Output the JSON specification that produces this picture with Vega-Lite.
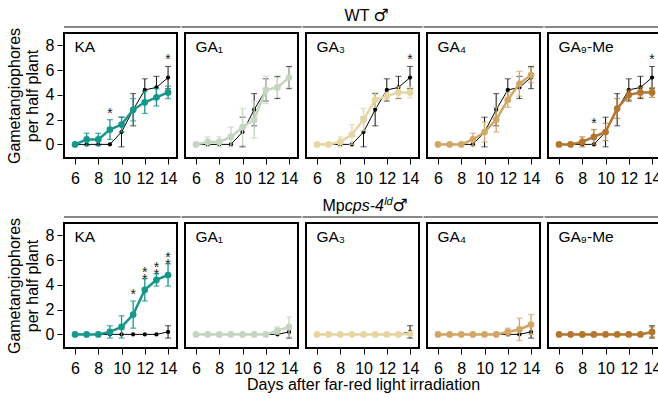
{
  "$schema": "https://vega.github.io/schema/vega-lite/v6.json",
  "padding": {"left": 6, "top": 6, "right": 0, "bottom": 0},
  "title": {"text": "Days after far-red light irradiation", "orient": "bottom", "anchor": "middle", "dx": 29, "fontSize": 16, "fontWeight": "normal", "offset": 0, "color": "#000"},
  "data": {"values": [
    {"g":"WT","t":"KA","d":6,"m":0,"s":0,"c":0,"cs":0},
    {"g":"WT","t":"KA","d":7,"m":0.4,"s":0.5,"c":0,"cs":0},
    {"g":"WT","t":"KA","d":8,"m":0.4,"s":0.5,"c":0,"cs":0},
    {"g":"WT","t":"KA","d":9,"m":1.2,"s":0.8,"c":0,"cs":0,"sig":"*"},
    {"g":"WT","t":"KA","d":10,"m":1.6,"s":0.6,"c":1.0,"cs":1.2},
    {"g":"WT","t":"KA","d":11,"m":2.8,"s":0.9,"c":2.8,"cs":1.3},
    {"g":"WT","t":"KA","d":12,"m":3.4,"s":0.9,"c":4.4,"cs":0.9},
    {"g":"WT","t":"KA","d":13,"m":3.8,"s":0.7,"c":4.6,"cs":0.9},
    {"g":"WT","t":"KA","d":14,"m":4.2,"s":0.5,"c":5.4,"cs":0.9,"sig":"*"},
    {"g":"WT","t":"GA₁","d":6,"m":0,"s":0,"c":0,"cs":0},
    {"g":"WT","t":"GA₁","d":7,"m":0.2,"s":0.4,"c":0,"cs":0},
    {"g":"WT","t":"GA₁","d":8,"m":0.2,"s":0.4,"c":0,"cs":0},
    {"g":"WT","t":"GA₁","d":9,"m":0.6,"s":0.8,"c":0,"cs":0},
    {"g":"WT","t":"GA₁","d":10,"m":1.4,"s":1.5,"c":1.0,"cs":1.2},
    {"g":"WT","t":"GA₁","d":11,"m":2.0,"s":1.5,"c":2.8,"cs":1.3},
    {"g":"WT","t":"GA₁","d":12,"m":4.4,"s":1.1,"c":4.4,"cs":0.9},
    {"g":"WT","t":"GA₁","d":13,"m":4.6,"s":0.8,"c":4.6,"cs":0.9},
    {"g":"WT","t":"GA₁","d":14,"m":5.4,"s":0.8,"c":5.4,"cs":0.9},
    {"g":"WT","t":"GA₃","d":6,"m":0,"s":0,"c":0,"cs":0},
    {"g":"WT","t":"GA₃","d":7,"m":0,"s":0,"c":0,"cs":0},
    {"g":"WT","t":"GA₃","d":8,"m":0.2,"s":0.4,"c":0,"cs":0},
    {"g":"WT","t":"GA₃","d":9,"m":0.8,"s":0.8,"c":0,"cs":0},
    {"g":"WT","t":"GA₃","d":10,"m":2.0,"s":0.9,"c":1.0,"cs":1.2},
    {"g":"WT","t":"GA₃","d":11,"m":3.6,"s":0.6,"c":2.8,"cs":1.3},
    {"g":"WT","t":"GA₃","d":12,"m":3.9,"s":0.3,"c":4.4,"cs":0.9},
    {"g":"WT","t":"GA₃","d":13,"m":4.2,"s":0.45,"c":4.6,"cs":0.9},
    {"g":"WT","t":"GA₃","d":14,"m":4.2,"s":0.45,"c":5.4,"cs":0.9,"sig":"*"},
    {"g":"WT","t":"GA₄","d":6,"m":0,"s":0,"c":0,"cs":0},
    {"g":"WT","t":"GA₄","d":7,"m":0,"s":0,"c":0,"cs":0},
    {"g":"WT","t":"GA₄","d":8,"m":0,"s":0,"c":0,"cs":0},
    {"g":"WT","t":"GA₄","d":9,"m":0.4,"s":0.5,"c":0,"cs":0},
    {"g":"WT","t":"GA₄","d":10,"m":1.0,"s":0.8,"c":1.0,"cs":1.2},
    {"g":"WT","t":"GA₄","d":11,"m":2.0,"s":1.0,"c":2.8,"cs":1.3},
    {"g":"WT","t":"GA₄","d":12,"m":3.6,"s":0.6,"c":4.4,"cs":0.9},
    {"g":"WT","t":"GA₄","d":13,"m":4.9,"s":1.0,"c":4.6,"cs":0.9},
    {"g":"WT","t":"GA₄","d":14,"m":5.6,"s":0.6,"c":5.4,"cs":0.9},
    {"g":"WT","t":"GA₉-Me","d":6,"m":0,"s":0,"c":0,"cs":0},
    {"g":"WT","t":"GA₉-Me","d":7,"m":0,"s":0,"c":0,"cs":0},
    {"g":"WT","t":"GA₉-Me","d":8,"m":0.2,"s":0.4,"c":0,"cs":0},
    {"g":"WT","t":"GA₉-Me","d":9,"m":0.6,"s":0.6,"c":0,"cs":0,"sig":"*"},
    {"g":"WT","t":"GA₉-Me","d":10,"m":1.0,"s":0.7,"c":1.0,"cs":1.2},
    {"g":"WT","t":"GA₉-Me","d":11,"m":2.9,"s":0.8,"c":2.8,"cs":1.3},
    {"g":"WT","t":"GA₉-Me","d":12,"m":4.0,"s":0.4,"c":4.4,"cs":0.9},
    {"g":"WT","t":"GA₉-Me","d":13,"m":4.2,"s":0.4,"c":4.6,"cs":0.9},
    {"g":"WT","t":"GA₉-Me","d":14,"m":4.2,"s":0.4,"c":5.4,"cs":0.9,"sig":"*"},
    {"g":"cps","t":"KA","d":6,"m":0,"s":0,"c":0,"cs":0},
    {"g":"cps","t":"KA","d":7,"m":0,"s":0,"c":0,"cs":0},
    {"g":"cps","t":"KA","d":8,"m":0,"s":0,"c":0,"cs":0},
    {"g":"cps","t":"KA","d":9,"m":0.2,"s":0.5,"c":0,"cs":0},
    {"g":"cps","t":"KA","d":10,"m":0.6,"s":0.9,"c":0,"cs":0},
    {"g":"cps","t":"KA","d":11,"m":1.6,"s":1.1,"c":0,"cs":0,"sig":"*"},
    {"g":"cps","t":"KA","d":12,"m":3.6,"s":0.9,"c":0,"cs":0,"sig":"*\n*"},
    {"g":"cps","t":"KA","d":13,"m":4.4,"s":0.5,"c":0,"cs":0,"sig":"*\n*"},
    {"g":"cps","t":"KA","d":14,"m":4.8,"s":0.9,"c":0.2,"cs":0.5,"sig":"*\n*"},
    {"g":"cps","t":"GA₁","d":6,"m":0,"s":0,"c":0,"cs":0},
    {"g":"cps","t":"GA₁","d":7,"m":0,"s":0,"c":0,"cs":0},
    {"g":"cps","t":"GA₁","d":8,"m":0,"s":0,"c":0,"cs":0},
    {"g":"cps","t":"GA₁","d":9,"m":0,"s":0,"c":0,"cs":0},
    {"g":"cps","t":"GA₁","d":10,"m":0,"s":0,"c":0,"cs":0},
    {"g":"cps","t":"GA₁","d":11,"m":0,"s":0,"c":0,"cs":0},
    {"g":"cps","t":"GA₁","d":12,"m":0,"s":0,"c":0,"cs":0},
    {"g":"cps","t":"GA₁","d":13,"m":0.3,"s":0.3,"c":0,"cs":0},
    {"g":"cps","t":"GA₁","d":14,"m":0.6,"s":0.8,"c":0.2,"cs":0.5},
    {"g":"cps","t":"GA₃","d":6,"m":0,"s":0,"c":0,"cs":0},
    {"g":"cps","t":"GA₃","d":7,"m":0,"s":0,"c":0,"cs":0},
    {"g":"cps","t":"GA₃","d":8,"m":0,"s":0,"c":0,"cs":0},
    {"g":"cps","t":"GA₃","d":9,"m":0,"s":0,"c":0,"cs":0},
    {"g":"cps","t":"GA₃","d":10,"m":0,"s":0,"c":0,"cs":0},
    {"g":"cps","t":"GA₃","d":11,"m":0,"s":0,"c":0,"cs":0},
    {"g":"cps","t":"GA₃","d":12,"m":0,"s":0,"c":0,"cs":0},
    {"g":"cps","t":"GA₃","d":13,"m":0,"s":0,"c":0,"cs":0},
    {"g":"cps","t":"GA₃","d":14,"m":0.05,"s":0.1,"c":0.2,"cs":0.5},
    {"g":"cps","t":"GA₄","d":6,"m":0,"s":0,"c":0,"cs":0},
    {"g":"cps","t":"GA₄","d":7,"m":0,"s":0,"c":0,"cs":0},
    {"g":"cps","t":"GA₄","d":8,"m":0,"s":0,"c":0,"cs":0},
    {"g":"cps","t":"GA₄","d":9,"m":0,"s":0,"c":0,"cs":0},
    {"g":"cps","t":"GA₄","d":10,"m":0,"s":0,"c":0,"cs":0},
    {"g":"cps","t":"GA₄","d":11,"m":0,"s":0,"c":0,"cs":0},
    {"g":"cps","t":"GA₄","d":12,"m":0.2,"s":0.3,"c":0,"cs":0},
    {"g":"cps","t":"GA₄","d":13,"m":0.4,"s":0.9,"c":0,"cs":0},
    {"g":"cps","t":"GA₄","d":14,"m":0.8,"s":0.8,"c":0.2,"cs":0.5},
    {"g":"cps","t":"GA₉-Me","d":6,"m":0,"s":0,"c":0,"cs":0},
    {"g":"cps","t":"GA₉-Me","d":7,"m":0,"s":0,"c":0,"cs":0},
    {"g":"cps","t":"GA₉-Me","d":8,"m":0,"s":0,"c":0,"cs":0},
    {"g":"cps","t":"GA₉-Me","d":9,"m":0,"s":0,"c":0,"cs":0},
    {"g":"cps","t":"GA₉-Me","d":10,"m":0,"s":0,"c":0,"cs":0},
    {"g":"cps","t":"GA₉-Me","d":11,"m":0,"s":0,"c":0,"cs":0},
    {"g":"cps","t":"GA₉-Me","d":12,"m":0,"s":0,"c":0,"cs":0},
    {"g":"cps","t":"GA₉-Me","d":13,"m":0,"s":0,"c":0,"cs":0},
    {"g":"cps","t":"GA₉-Me","d":14,"m":0.2,"s":0.4,"c":0.2,"cs":0.5}
  ]},
  "facet": {
    "row": {"field": "g", "type": "nominal", "sort": ["WT", "cps"], "header": null},
    "column": {"field": "t", "type": "nominal", "sort": ["KA", "GA₁", "GA₃", "GA₄", "GA₉-Me"], "header": null}
  },
  "spacing": {"row": 8, "column": -4},
  "resolve": {"axis": {"x": "independent"}},
  "spec": {
    "width": 113,
    "height": 125,
    "encoding": {
      "x": {"field": "d", "type": "quantitative", "scale": {"domain": [5.05, 14.77], "nice": false, "zero": false}, "axis": {"values": [6, 8, 10, 12, 14], "title": null, "labelPadding": 6, "tickSize": 6, "labelOverlap": false}}
    },
    "layer": [
      {
        "mark": {"type": "line", "color": "#000", "strokeWidth": 1},
        "encoding": {
          "y": {"field": "c", "type": "quantitative", "title": ["Gametangiophores", "per half plant"], "scale": {"domain": [-1.1, 9], "nice": false, "zero": false}, "axis": {"values": [0, 2, 4, 6, 8], "tickCount": 5, "labelPadding": 3, "titlePadding": 5, "titleLineHeight": 18, "labelOverlap": false}}
        }
      },
      {
        "transform": [{"filter": "datum.cs > 0"}],
        "mark": {"type": "errorbar", "ticks": true, "size": 6, "thickness": 1, "color": "#111"},
        "encoding": {
          "y": {"field": "c", "type": "quantitative", "title": ["Gametangiophores", "per half plant"], "axis": {"values": [0, 2, 4, 6, 8], "tickCount": 5, "labelOverlap": false}},
          "yError": {"field": "cs"}
        }
      },
      {
        "mark": {"type": "circle", "color": "#000", "size": 18, "opacity": 1},
        "encoding": {
          "y": {"field": "c", "type": "quantitative", "title": ["Gametangiophores", "per half plant"], "axis": {"values": [0, 2, 4, 6, 8], "tickCount": 5, "labelOverlap": false}}
        }
      },
      {
        "transform": [{"filter": "datum.s > 0"}],
        "mark": {"type": "errorbar", "ticks": true, "size": 6, "thickness": 1.3},
        "encoding": {
          "y": {"field": "m", "type": "quantitative", "title": ["Gametangiophores", "per half plant"], "axis": {"values": [0, 2, 4, 6, 8], "tickCount": 5, "labelOverlap": false}},
          "yError": {"field": "s"},
          "color": {"field": "t", "type": "nominal", "scale": {"domain": ["KA", "GA₁", "GA₃", "GA₄", "GA₉-Me"], "range": ["#17968c", "#c5d5c2", "#e5d6a3", "#d0a767", "#b27630"]}, "legend": null}
        }
      },
      {
        "mark": {"type": "line", "strokeWidth": 2.5},
        "encoding": {
          "y": {"field": "m", "type": "quantitative", "title": ["Gametangiophores", "per half plant"], "axis": {"values": [0, 2, 4, 6, 8], "tickCount": 5, "labelOverlap": false}},
          "color": {"field": "t", "type": "nominal", "legend": null}
        }
      },
      {
        "mark": {"type": "circle", "size": 45, "opacity": 1},
        "encoding": {
          "y": {"field": "m", "type": "quantitative", "title": ["Gametangiophores", "per half plant"], "axis": {"values": [0, 2, 4, 6, 8], "tickCount": 5, "labelOverlap": false}},
          "color": {"field": "t", "type": "nominal", "legend": null}
        }
      },
      {
        "transform": [{"filter": "datum.sig"}, {"calculate": "max(datum.m + datum.s, datum.c + datum.cs)", "as": "top"}],
        "mark": {"type": "text", "fontSize": 14, "baseline": "bottom", "dy": 1, "lineBreak": "\n", "lineHeight": 7, "color": "#222"},
        "encoding": {
          "y": {"field": "top", "type": "quantitative", "title": ["Gametangiophores", "per half plant"], "axis": {"values": [0, 2, 4, 6, 8], "tickCount": 5, "labelOverlap": false}},
          "text": {"field": "sig"}
        }
      },
      {
        "transform": [{"filter": "datum.d == 6"}],
        "mark": {"type": "text", "align": "left", "baseline": "alphabetic", "fontSize": 15.5, "color": "#000"},
        "encoding": {
          "x": {"datum": 5.95, "type": "quantitative"},
          "y": {"datum": 7.47, "type": "quantitative", "axis": {"values": [0, 2, 4, 6, 8], "tickCount": 5, "labelOverlap": false}},
          "text": {"field": "t"}
        }
      },
      {
        "transform": [{"filter": "datum.d == 6 && datum.t == 'KA'"}],
        "mark": {"type": "rule", "color": "#888", "strokeWidth": 2},
        "encoding": {
          "x": {"datum": 5.05, "type": "quantitative"},
          "x2": {"datum": 15.07},
          "y": {"datum": 9.49, "type": "quantitative", "axis": {"values": [0, 2, 4, 6, 8], "tickCount": 5, "labelOverlap": false}}
        }
      },
      {
        "transform": [{"filter": "datum.d == 6 && datum.t != 'KA' && datum.t != 'GA₉-Me'"}],
        "mark": {"type": "rule", "color": "#888", "strokeWidth": 2},
        "encoding": {
          "x": {"datum": 4.75, "type": "quantitative"},
          "x2": {"datum": 15.07},
          "y": {"datum": 9.49, "type": "quantitative", "axis": {"values": [0, 2, 4, 6, 8], "tickCount": 5, "labelOverlap": false}}
        }
      },
      {
        "transform": [{"filter": "datum.d == 6 && datum.t == 'GA₉-Me'"}],
        "mark": {"type": "rule", "color": "#888", "strokeWidth": 2},
        "encoding": {
          "x": {"datum": 4.75, "type": "quantitative"},
          "x2": {"datum": 14.77},
          "y": {"datum": 9.49, "type": "quantitative", "axis": {"values": [0, 2, 4, 6, 8], "tickCount": 5, "labelOverlap": false}}
        }
      },
      {
        "transform": [{"filter": "datum.d == 6 && datum.t == 'GA₃' && datum.g == 'WT'"}],
        "mark": {"type": "text", "text": "WT", "align": "left", "baseline": "alphabetic", "fontSize": 16, "dx": -19, "color": "#000"},
        "encoding": {
          "x": {"datum": 10, "type": "quantitative"},
          "y": {"datum": 9.93, "type": "quantitative", "axis": {"values": [0, 2, 4, 6, 8], "tickCount": 5, "labelOverlap": false}}
        }
      },
      {
        "transform": [{"filter": "datum.d == 6 && datum.t == 'GA₃' && datum.g == 'WT'"}],
        "mark": {"type": "text", "text": "♂", "align": "left", "baseline": "alphabetic", "fontSize": 17, "font": "DejaVu Sans", "dx": 10, "color": "#000"},
        "encoding": {
          "x": {"datum": 10, "type": "quantitative"},
          "y": {"datum": 9.93, "type": "quantitative", "axis": {"values": [0, 2, 4, 6, 8], "tickCount": 5, "labelOverlap": false}}
        }
      },
      {
        "transform": [{"filter": "datum.d == 6 && datum.t == 'GA₃' && datum.g == 'cps'"}],
        "mark": {"type": "text", "text": "Mp", "align": "left", "baseline": "alphabetic", "fontSize": 16, "dx": -41, "color": "#000"},
        "encoding": {
          "x": {"datum": 10, "type": "quantitative"},
          "y": {"datum": 9.93, "type": "quantitative", "axis": {"values": [0, 2, 4, 6, 8], "tickCount": 5, "labelOverlap": false}}
        }
      },
      {
        "transform": [{"filter": "datum.d == 6 && datum.t == 'GA₃' && datum.g == 'cps'"}],
        "mark": {"type": "text", "text": "cps-4", "align": "left", "baseline": "alphabetic", "fontSize": 16, "fontStyle": "italic", "dx": -18.8, "color": "#000"},
        "encoding": {
          "x": {"datum": 10, "type": "quantitative"},
          "y": {"datum": 9.93, "type": "quantitative", "axis": {"values": [0, 2, 4, 6, 8], "tickCount": 5, "labelOverlap": false}}
        }
      },
      {
        "transform": [{"filter": "datum.d == 6 && datum.t == 'GA₃' && datum.g == 'cps'"}],
        "mark": {"type": "text", "text": "ld", "align": "left", "baseline": "alphabetic", "fontSize": 11, "fontStyle": "italic", "dx": 20.6, "dy": -6, "color": "#000"},
        "encoding": {
          "x": {"datum": 10, "type": "quantitative"},
          "y": {"datum": 9.93, "type": "quantitative", "axis": {"values": [0, 2, 4, 6, 8], "tickCount": 5, "labelOverlap": false}}
        }
      },
      {
        "transform": [{"filter": "datum.d == 6 && datum.t == 'GA₃' && datum.g == 'cps'"}],
        "mark": {"type": "text", "text": "♂", "align": "left", "baseline": "alphabetic", "fontSize": 17, "font": "DejaVu Sans", "dx": 29, "color": "#000"},
        "encoding": {
          "x": {"datum": 10, "type": "quantitative"},
          "y": {"datum": 9.93, "type": "quantitative", "axis": {"values": [0, 2, 4, 6, 8], "tickCount": 5, "labelOverlap": false}}
        }
      }
    ]
  },
  "config": {
    "font": "Liberation Sans",
    "view": {"stroke": "#000", "strokeWidth": 2},
    "axis": {"grid": false, "domain": false, "tickColor": "#000", "tickSize": 5, "labelFontSize": 16, "labelColor": "#000", "titleFontSize": 16, "titleFontWeight": "normal", "titleColor": "#000"},
    "axisY": {"tickCount": 5, "labelOverlap": false}
  }
}
